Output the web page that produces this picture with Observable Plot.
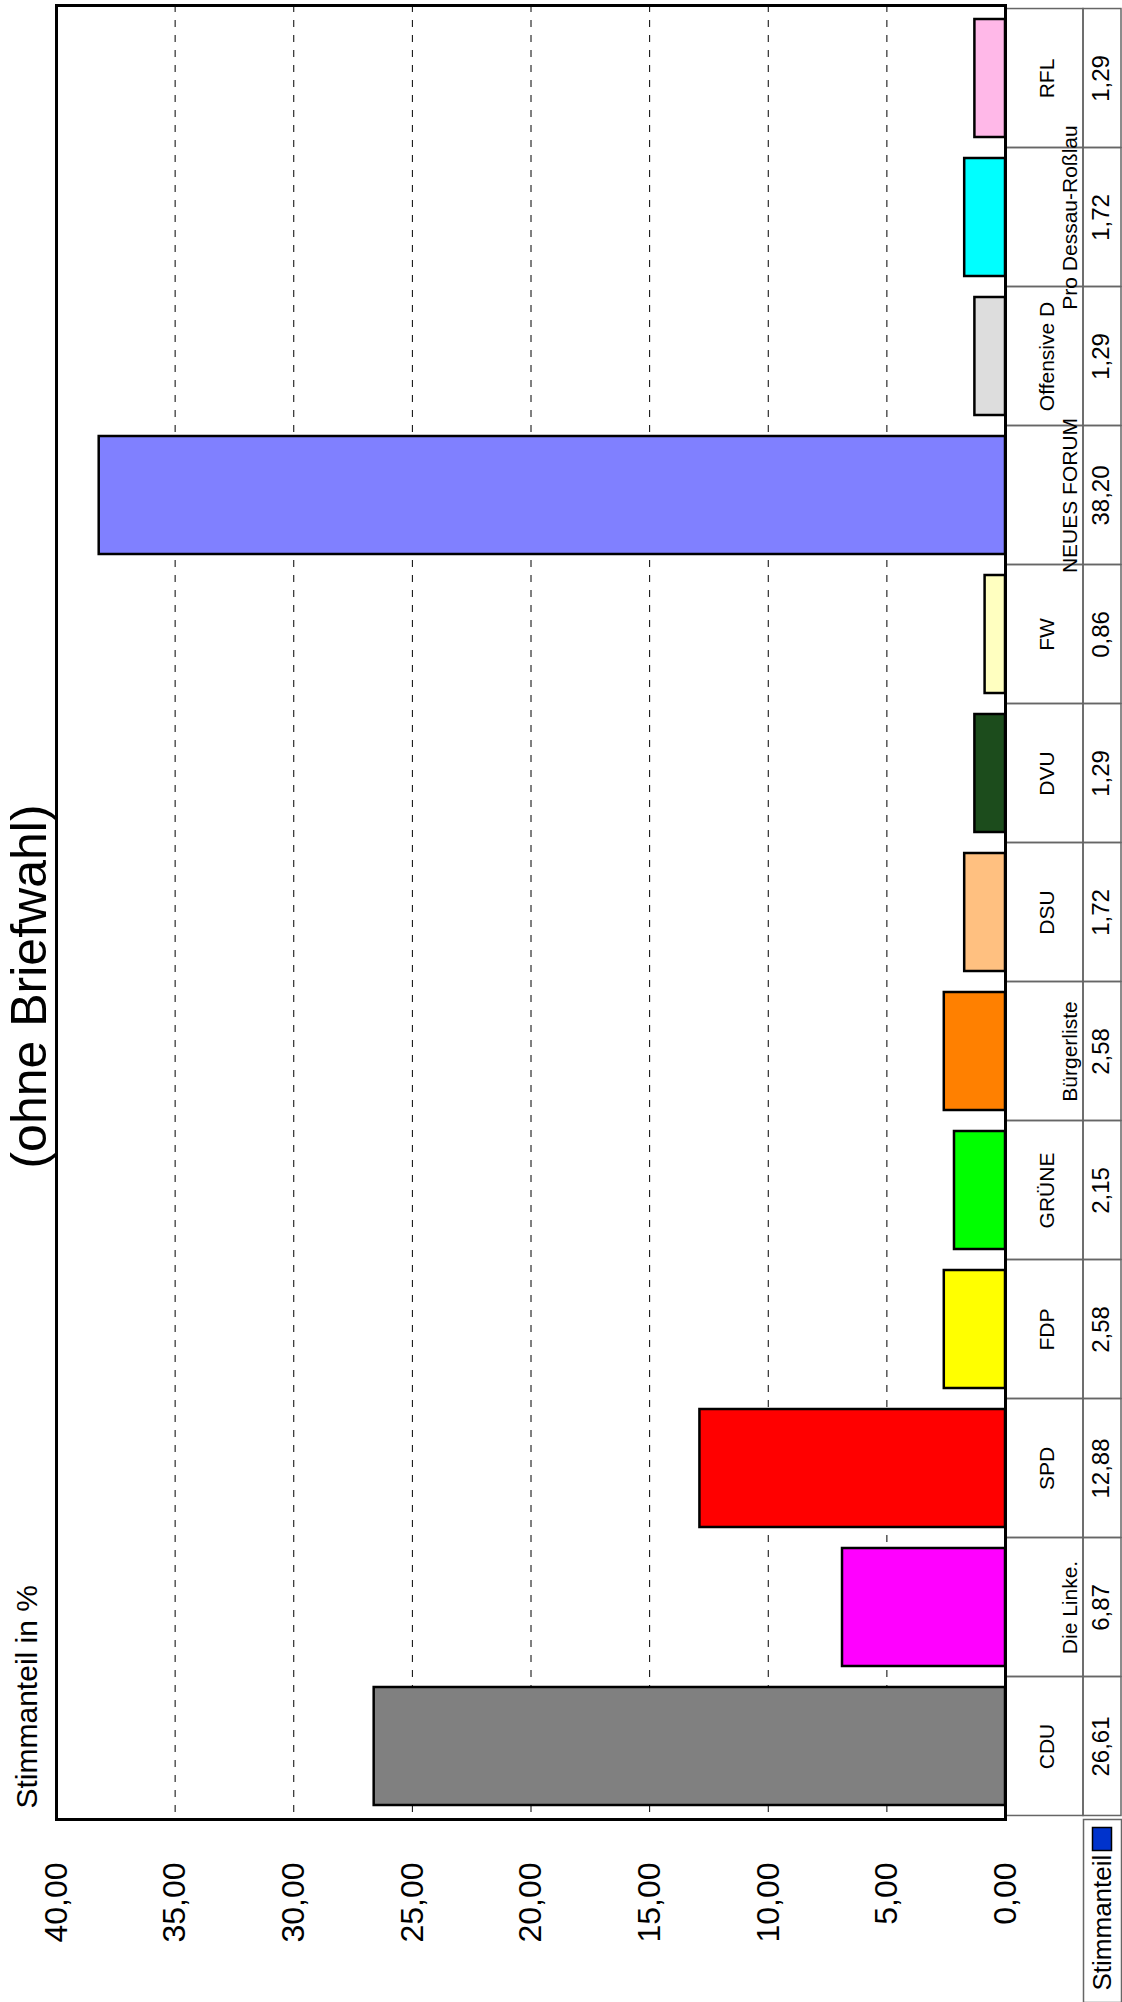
<!DOCTYPE html>
<html>
<head>
<meta charset="utf-8">
<script src="https://cdn.jsdelivr.net/npm/d3@7"></script>
<script src="https://cdn.jsdelivr.net/npm/@observablehq/plot@0.6"></script>
<style>
  html, body { margin: 0; padding: 0; background: #fff; overflow: hidden; }
  #chart svg { display: block; }
</style>
</head>
<body>
<div id="chart"></div>
<script>
// ---- data ----
const parties = ["CDU", "Die Linke.", "SPD", "FDP", "GRÜNE", "Bürgerliste", "DSU", "DVU", "FW", "NEUES FORUM", "Offensive D", "Pro Dessau-Roßlau", "RFL"];
const tableLabels = ["CDU", "\nDie Linke.", "SPD", "FDP", "GRÜNE", "\nBürgerliste", "DSU", "DVU", "FW", "\nNEUES FORUM", "Offensive D", "\nPro Dessau-Roßlau", "RFL"];
const values = [26.61, 6.87, 12.88, 2.58, 2.15, 2.58, 1.72, 1.29, 0.86, 38.20, 1.29, 1.72, 1.29];
const colors = ["#808080", "#ff00ff", "#ff0000", "#ffff00", "#00ff00", "#ff8000", "#ffc080", "#1c4c1c", "#ffffc0", "#8080ff", "#dddddd", "#00ffff", "#ffb8e8"];
const tickValues = [0, 5, 10, 15, 20, 25, 30, 35, 40];
const tickLabels = ["0,00", "5,00", "10,00", "15,00", "20,00", "25,00", "30,00", "35,00", "40,00"];
const gridValues = [5, 10, 15, 20, 25, 30, 35];
const title = "(ohne Briefwahl)";
const axisTitle = "Stimmanteil in %";
const seriesName = "Stimmanteil";
const seriesColor = "#0033cc";

const data = parties.map((p, i) => ({party: p, label: tableLabels[i], value: values[i], color: colors[i]}));
const ticks = tickValues.map((v, i) => ({value: v, label: tickLabels[i]}));
const fmt = v => v.toFixed(2).replace(".", ",");

const font = "'Liberation Sans', Arial, Helvetica, sans-serif";
const rowInset = -10.47;
const tableLine = "#666";

const chart = Plot.plot({
  width: 1122,
  height: 2002,
  marginLeft: 56,
  marginRight: 117,
  marginTop: 5,
  marginBottom: 183,
  style: {fontFamily: font, background: "#fff", color: "#000"},
  x: {domain: [0, 40], reverse: true, axis: null},
  y: {domain: parties.slice().reverse(), paddingInner: 0.15, paddingOuter: 0.075, axis: null},
  marks: [
    // data table cells (label column and value column)
    Plot.cell(data, {y: "party", fill: "none", stroke: tableLine, strokeWidth: 1.5,
      insetTop: rowInset, insetBottom: rowInset, insetLeft: 949, insetRight: -78}),
    Plot.cell(data, {y: "party", fill: "none", stroke: tableLine, strokeWidth: 1.5,
      insetTop: rowInset, insetBottom: rowInset, insetLeft: 1027, insetRight: -116}),
    // legend cell
    Plot.frame({stroke: tableLine, strokeWidth: 1.5, insetLeft: 1027, insetRight: -116, insetTop: 1814, insetBottom: -183}),
    // gridlines
    Plot.ruleX(gridValues, {x: d => d, stroke: "#000", strokeWidth: 1, strokeDasharray: "7,8"}),
    // bars
    Plot.barX(data, {x: "value", y: "party", fill: d => d.color, stroke: "#000", strokeWidth: 2.5}),
    // plot frame
    Plot.frame({stroke: "#000", strokeWidth: 3}),
    // value axis tick labels
    Plot.text(ticks, {x: "value", text: "label", frameAnchor: "bottom", dy: 43, rotate: -90,
      textAnchor: "end", lineAnchor: "middle", fontSize: 32, fill: "#000"}),
    // axis title
    Plot.text([axisTitle], {text: d => d, frameAnchor: "bottom-left", dx: -29, dy: -11, rotate: -90,
      textAnchor: "start", lineAnchor: "middle", fontSize: 30, fill: "#000"}),
    // chart title
    Plot.text([title], {text: d => d, frameAnchor: "left", dx: -27, dy: 74, rotate: -90,
      textAnchor: "middle", lineAnchor: "middle", fontSize: 50, fill: "#000"}),
    // table: category labels
    Plot.text(data, {y: "party", text: "label", frameAnchor: "right", dx: 31.8, rotate: -90,
      textAnchor: "middle", lineAnchor: "top", lineHeight: 1.11, fontSize: 21, fill: "#000"}),
    // table: values
    Plot.text(data, {y: "party", text: d => fmt(d.value), frameAnchor: "right", dx: 95.5, rotate: -90,
      textAnchor: "middle", lineAnchor: "middle", fontSize: 24, fill: "#000"}),
    // legend key and label
    Plot.frame({fill: seriesColor, stroke: "#000", strokeWidth: 1.5, insetLeft: 1036, insetRight: -106, insetTop: 1822, insetBottom: -31}),
    Plot.text([seriesName], {text: d => d, frameAnchor: "bottom-right", dx: 97.4, dy: 171, rotate: -90,
      textAnchor: "start", lineAnchor: "middle", fontSize: 26, fill: "#000"})
  ]
});
document.getElementById("chart").appendChild(chart);
</script>
</body>
</html>
